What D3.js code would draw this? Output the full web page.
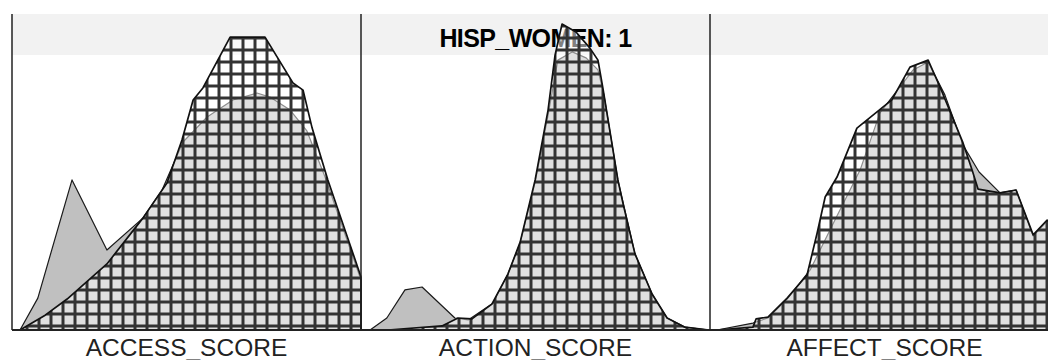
<!DOCTYPE html>
<html>
<head>
<meta charset="utf-8">
<script src="https://cdn.jsdelivr.net/npm/d3@7"></script>
<style>
  html, body { margin: 0; padding: 0; background: #fff; }
  svg { display: block; }
</style>
</head>
<body>
<svg id="chart" width="1048" height="360"></svg>
<script>
// ---- data (scores 0..100 across each panel, density as % of common max) ----
const panelNames = ["ACCESS_SCORE", "ACTION_SCORE", "AFFECT_SCORE"];
const stripLabel = "HISP_WOMEN: 1";

const accessGrayX  = [2.3, 7.4, 17.2, 27.2, 37.5, 43.0, 49.0, 55.9, 63.3, 70.2, 73.9, 79.7, 84.5, 89.7, 94.8, 100];
const accessGrayY  = [0, 10.1, 47.5, 25.3, 35.4, 44.3, 59.5, 67.4, 72.8, 75.0, 73.7, 69.6, 63.0, 48.4, 32.3, 15.8];
const accessHatchX = [2.3, 9.5, 15.8, 27.2, 37.5, 44.4, 48.7, 51.9, 54.7, 62.5, 72.5, 80.5, 83.4, 86.0, 90.5, 100];
const accessHatchY = [0, 4.7, 9.8, 20.9, 35.4, 46.5, 60.1, 72.8, 76.6, 92.7, 92.7, 78.2, 75.9, 63.9, 47.5, 16.8];

const actionGrayX  = [2.6, 7.4, 12.6, 17.5, 26.9, 30.7, 37.8, 42.1, 45.6, 49.9, 53.6, 56.4, 60.5, 64.5, 67.9, 69.6, 73.6, 78.5, 83.4, 87.7, 92.8, 99.7];
const actionGrayY  = [0, 3.8, 12.7, 13.6, 3.8, 3.2, 8.5, 17.7, 27.5, 46.8, 68.0, 85.4, 88.0, 86.1, 82.3, 74.4, 47.5, 24.1, 11.4, 3.8, 0.9, 0];
const actionHatchX = [7.7, 23.2, 27.8, 31.8, 37.5, 42.1, 45.6, 49.9, 53.6, 55.6, 57.6, 61.6, 65.6, 67.9, 69.3, 73.6, 75.1, 78.5, 83.4, 87.7, 92.8, 99.7];
const actionHatchY = [0, 1.3, 3.8, 3.5, 8.2, 17.7, 27.8, 47.5, 69.6, 87.0, 96.8, 94.3, 89.2, 85.4, 76.6, 47.5, 39.9, 24.1, 11.4, 3.8, 0.9, 0];

const affectGrayX  = [2.0, 12.3, 16.6, 22.1, 28.7, 35.8, 43.0, 48.7, 58.2, 62.5, 67.3, 72.5, 77.1, 83.1, 87.7, 92.6, 96.6, 100];
const affectGrayY  = [0, 2.2, 3.8, 9.8, 19.0, 34.8, 50.6, 68.7, 82.3, 84.8, 74.4, 58.5, 50.0, 43.4, 44.3, 29.7, 34.5, 31.3];
const affectHatchX = [2.0, 12.3, 13.2, 16.6, 22.1, 27.8, 30.7, 33.0, 36.4, 42.1, 52.1, 57.3, 62.5, 65.9, 72.5, 75.1, 76.8, 83.1, 87.7, 92.6, 96.6, 100];
const affectHatchY = [0, 0.9, 3.5, 4.1, 10.1, 17.4, 30.7, 42.1, 48.4, 63.9, 72.8, 83.2, 85.4, 76.9, 59.2, 50.6, 44.6, 43.4, 44.3, 30.1, 34.8, 31.6];

// ---- layout ----
const svg = d3.select("#chart");
const panelLeft = 12, panelW = 349, plotTop = 14, stripH = 41, base = 330;
const W = 1048;

const defs = svg.append("defs");
const pat = defs.append("pattern")
  .attr("id", "hatch").attr("patternUnits", "userSpaceOnUse")
  .attr("width", 12).attr("height", 12);
pat.append("rect").attr("width", 12).attr("height", 12)
  .attr("fill", "#fff").attr("fill-opacity", 0.5);
pat.append("line").attr("x1", 3).attr("x2", 3).attr("y1", 0).attr("y2", 12)
  .attr("stroke", "#333").attr("stroke-width", 3);
pat.append("line").attr("x1", 0).attr("x2", 12).attr("y1", 2).attr("y2", 2)
  .attr("stroke", "#333").attr("stroke-width", 3);

// strip
svg.append("rect").attr("x", panelLeft).attr("y", plotTop)
  .attr("width", W - panelLeft).attr("height", stripH).attr("fill", "#f2f2f2");
svg.append("text").attr("x", panelLeft + panelW * 1.5).attr("y", 47)
  .attr("text-anchor", "middle")
  .style("font-family", "'Liberation Sans', Arial, sans-serif")
  .style("font-weight", "bold").style("font-size", "25px")
  .style("letter-spacing", "-0.6px").attr("fill", "#000")
  .text(stripLabel);

const y = d3.scaleLinear().domain([0, 100]).range([base, plotTop]);

const series = [
  { gx: accessGrayX, gy: accessGrayY, hx: accessHatchX, hy: accessHatchY },
  { gx: actionGrayX, gy: actionGrayY, hx: actionHatchX, hy: actionHatchY },
  { gx: affectGrayX, gy: affectGrayY, hx: affectHatchX, hy: affectHatchY }
];

series.forEach((s, i) => {
  const x0 = panelLeft + i * panelW;
  const x = d3.scaleLinear().domain([0, 100]).range([x0, x0 + panelW]);
  const area = d3.area().x(d => x(d[0])).y0(y(0)).y1(d => y(d[1]));
  const g = svg.append("g");
  g.append("path").datum(s.gx.map((v, k) => [v, s.gy[k]]))
    .attr("d", area).attr("fill", "#c0c0c0")
    .attr("stroke", "#1a1a1a").attr("stroke-width", 1.2).attr("stroke-linejoin", "round");
  g.append("path").datum(s.hx.map((v, k) => [v, s.hy[k]]))
    .attr("d", area).attr("fill", "url(#hatch)")
    .attr("stroke", "#111").attr("stroke-width", 1.7).attr("stroke-linejoin", "round");

  svg.append("text").attr("x", x0 + panelW / 2).attr("y", 355.5)
    .attr("text-anchor", "middle")
    .style("font-family", "'Liberation Sans', Arial, sans-serif")
    .style("font-size", "24.5px").attr("fill", "#222")
    .text(panelNames[i]);
});

// frame lines
[0, 1, 2].forEach(i => {
  const xx = panelLeft + i * panelW;
  svg.append("line").attr("x1", xx).attr("x2", xx).attr("y1", plotTop).attr("y2", base)
    .attr("stroke", "#222").attr("stroke-width", 1.5);
});
svg.append("line").attr("x1", panelLeft).attr("x2", W).attr("y1", base).attr("y2", base)
  .attr("stroke", "#222").attr("stroke-width", 2);
</script>
</body>
</html>
